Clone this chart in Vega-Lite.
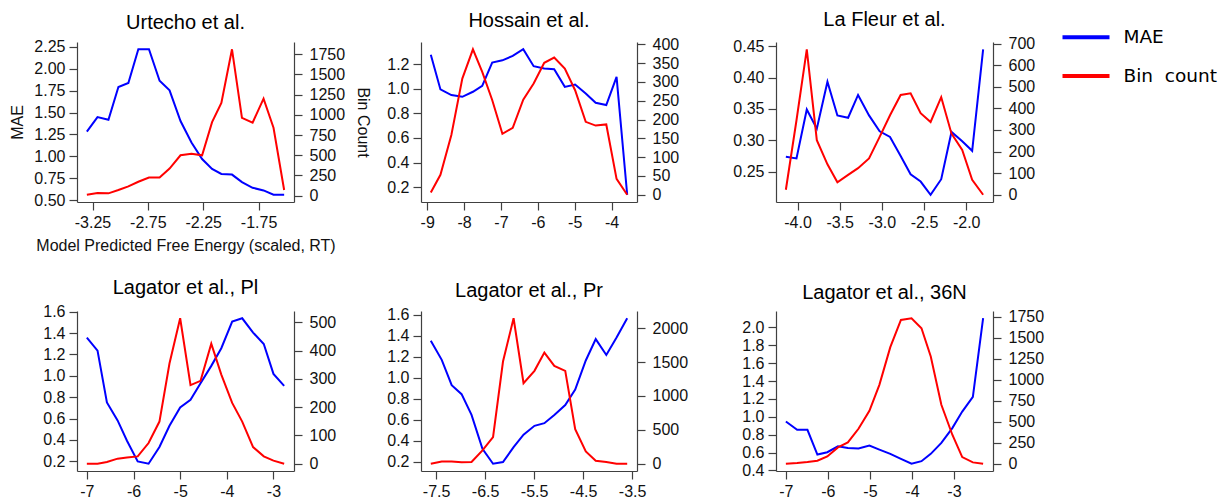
{
  "$schema": "https://vega.github.io/schema/vega-lite/v6.json",
  "padding": {"left": 9, "top": 10, "right": 5, "bottom": 5},
  "background": "white",
  "datasets": {
    "urtecho": [
      {"x": -3.301, "mae": 1.283, "count": 12},
      {"x": -3.205, "mae": 1.448, "count": 33},
      {"x": -3.106, "mae": 1.418, "count": 29},
      {"x": -3.016, "mae": 1.791, "count": 70},
      {"x": -2.926, "mae": 1.836, "count": 115},
      {"x": -2.836, "mae": 2.220, "count": 172},
      {"x": -2.740, "mae": 2.220, "count": 225},
      {"x": -2.644, "mae": 1.862, "count": 225},
      {"x": -2.554, "mae": 1.753, "count": 336},
      {"x": -2.455, "mae": 1.403, "count": 500},
      {"x": -2.356, "mae": 1.159, "count": 520},
      {"x": -2.260, "mae": 0.970, "count": 500},
      {"x": -2.170, "mae": 0.857, "count": 910},
      {"x": -2.086, "mae": 0.801, "count": 1148},
      {"x": -1.990, "mae": 0.793, "count": 1811},
      {"x": -1.900, "mae": 0.707, "count": 963},
      {"x": -1.804, "mae": 0.643, "count": 902},
      {"x": -1.705, "mae": 0.613, "count": 1201},
      {"x": -1.615, "mae": 0.564, "count": 840},
      {"x": -1.519, "mae": 0.564, "count": 70}
    ],
    "hossain": [
      {"x": -8.901, "mae": 1.278, "count": 6},
      {"x": -8.640, "mae": 0.995, "count": 53},
      {"x": -8.344, "mae": 0.949, "count": 159},
      {"x": -8.047, "mae": 0.935, "count": 309},
      {"x": -7.759, "mae": 0.976, "count": 387},
      {"x": -7.507, "mae": 1.024, "count": 327},
      {"x": -7.237, "mae": 1.214, "count": 252},
      {"x": -6.960, "mae": 1.232, "count": 162},
      {"x": -6.680, "mae": 1.268, "count": 178},
      {"x": -6.395, "mae": 1.322, "count": 253},
      {"x": -6.113, "mae": 1.184, "count": 296},
      {"x": -5.826, "mae": 1.165, "count": 351},
      {"x": -5.556, "mae": 1.159, "count": 365},
      {"x": -5.268, "mae": 1.016, "count": 336},
      {"x": -4.989, "mae": 1.035, "count": 278},
      {"x": -4.701, "mae": 0.962, "count": 194},
      {"x": -4.432, "mae": 0.886, "count": 184},
      {"x": -4.144, "mae": 0.868, "count": 187},
      {"x": -3.865, "mae": 1.097, "count": 42},
      {"x": -3.577, "mae": 0.138, "count": 0}
    ],
    "lafleur": [
      {"x": -4.138, "mae": 0.2741, "count": 23},
      {"x": -4.012, "mae": 0.2715, "count": 345},
      {"x": -3.890, "mae": 0.3492, "count": 674},
      {"x": -3.771, "mae": 0.3188, "count": 253},
      {"x": -3.645, "mae": 0.3933, "count": 141},
      {"x": -3.527, "mae": 0.3398, "count": 58},
      {"x": -3.400, "mae": 0.3361, "count": 92},
      {"x": -3.282, "mae": 0.3723, "count": 123},
      {"x": -3.152, "mae": 0.3398, "count": 168},
      {"x": -3.026, "mae": 0.3146, "count": 268},
      {"x": -2.903, "mae": 0.3056, "count": 368},
      {"x": -2.777, "mae": 0.2752, "count": 462},
      {"x": -2.659, "mae": 0.2463, "count": 470},
      {"x": -2.540, "mae": 0.2348, "count": 378},
      {"x": -2.422, "mae": 0.2138, "count": 337},
      {"x": -2.296, "mae": 0.2385, "count": 452},
      {"x": -2.174, "mae": 0.3135, "count": 283},
      {"x": -2.047, "mae": 0.2988, "count": 207},
      {"x": -1.929, "mae": 0.2836, "count": 69},
      {"x": -1.799, "mae": 0.4448, "count": 0}
    ],
    "lagatorPl": [
      {"x": -7.000, "mae": 1.357, "count": 0},
      {"x": -6.771, "mae": 1.236, "count": 0},
      {"x": -6.570, "mae": 0.751, "count": 6},
      {"x": -6.341, "mae": 0.583, "count": 18},
      {"x": -6.140, "mae": 0.393, "count": 22},
      {"x": -5.910, "mae": 0.200, "count": 26},
      {"x": -5.677, "mae": 0.178, "count": 73},
      {"x": -5.444, "mae": 0.334, "count": 149},
      {"x": -5.229, "mae": 0.533, "count": 354},
      {"x": -5.000, "mae": 0.704, "count": 514},
      {"x": -4.778, "mae": 0.775, "count": 278},
      {"x": -4.563, "mae": 0.931, "count": 293},
      {"x": -4.333, "mae": 1.093, "count": 424},
      {"x": -4.118, "mae": 1.258, "count": 315},
      {"x": -3.885, "mae": 1.507, "count": 215},
      {"x": -3.670, "mae": 1.538, "count": 149},
      {"x": -3.437, "mae": 1.404, "count": 59},
      {"x": -3.208, "mae": 1.298, "count": 26},
      {"x": -3.000, "mae": 1.018, "count": 11},
      {"x": -2.771, "mae": 0.906, "count": 0}
    ],
    "lagatorPr": [
      {"x": -7.608, "mae": 1.355, "count": 0},
      {"x": -7.385, "mae": 1.172, "count": 34},
      {"x": -7.182, "mae": 0.930, "count": 34},
      {"x": -6.980, "mae": 0.845, "count": 20},
      {"x": -6.777, "mae": 0.647, "count": 25},
      {"x": -6.554, "mae": 0.323, "count": 197},
      {"x": -6.338, "mae": 0.181, "count": 393},
      {"x": -6.135, "mae": 0.197, "count": 1509},
      {"x": -5.919, "mae": 0.339, "count": 2147},
      {"x": -5.716, "mae": 0.458, "count": 1189},
      {"x": -5.493, "mae": 0.543, "count": 1371},
      {"x": -5.291, "mae": 0.568, "count": 1641},
      {"x": -5.088, "mae": 0.647, "count": 1445},
      {"x": -4.865, "mae": 0.741, "count": 1371},
      {"x": -4.662, "mae": 0.889, "count": 511},
      {"x": -4.446, "mae": 1.166, "count": 182},
      {"x": -4.243, "mae": 1.370, "count": 44},
      {"x": -4.027, "mae": 1.219, "count": 25},
      {"x": -3.818, "mae": 1.386, "count": 0},
      {"x": -3.601, "mae": 1.569, "count": 0}
    ],
    "lagator36N": [
      {"x": -7.000, "mae": 0.947, "count": 0},
      {"x": -6.732, "mae": 0.854, "count": 8},
      {"x": -6.487, "mae": 0.854, "count": 20},
      {"x": -6.250, "mae": 0.577, "count": 36},
      {"x": -6.014, "mae": 0.603, "count": 87},
      {"x": -5.761, "mae": 0.670, "count": 194},
      {"x": -5.525, "mae": 0.651, "count": 253},
      {"x": -5.272, "mae": 0.644, "count": 416},
      {"x": -5.012, "mae": 0.677, "count": 629},
      {"x": -4.775, "mae": 0.633, "count": 938},
      {"x": -4.515, "mae": 0.585, "count": 1386},
      {"x": -4.262, "mae": 0.529, "count": 1710},
      {"x": -4.010, "mae": 0.474, "count": 1730},
      {"x": -3.773, "mae": 0.503, "count": 1611},
      {"x": -3.552, "mae": 0.585, "count": 1275},
      {"x": -3.300, "mae": 0.707, "count": 701},
      {"x": -3.039, "mae": 0.873, "count": 345},
      {"x": -2.803, "mae": 1.058, "count": 79},
      {"x": -2.550, "mae": 1.224, "count": 16},
      {"x": -2.306, "mae": 2.103, "count": 0}
    ]
  },
  "config": {
    "locale": {"number": {"decimal": ".", "thousands": ",", "grouping": [3], "currency": ["$", ""], "minus": "-"}},
    "view": {"stroke": null},
    "font": "Liberation Sans",
    "axis": {
      "grid": false,
      "domainColor": "#404040",
      "tickColor": "#404040",
      "domainWidth": 1.2,
      "tickWidth": 1.2,
      "tickSize": 8,
      "labelFont": "Liberation Sans",
      "labelFontSize": 16,
      "labelColor": "#111111",
      "titleFont": "Liberation Sans",
      "titleFontSize": 16,
      "titleFontWeight": "normal",
      "titleColor": "#111111",
      "labelFlush": false,
      "labelOverlap": false
    },
    "axisLeft": {"labelPadding": 4, "titlePadding": 8},
    "axisRight": {"labelPadding": 7, "titlePadding": 10},
    "axisBottom": {"labelPadding": 4, "titlePadding": 7},
    "title": {"font": "Liberation Sans", "fontSize": 20, "fontWeight": "normal", "color": "#000000", "anchor": "middle", "frame": "group", "offset": 5.5},
    "legend": {
      "padding": 0,
      "symbolType": "M-1.5,-0.0667H1.5V0.0667H-1.5Z",
      "symbolSize": 900,
      "labelFont": "DejaVu Sans",
      "labelFontSize": 18.5,
      "labelColor": "#000000",
      "rowPadding": 12.7,
      "labelOffset": 21.5,
      "labelLimit": 400
    },
    "line": {"strokeWidth": 2}
  },
  "spacing": 15,
  "hconcat": [
    {
      "vconcat": [
        {
          "data": {"name": "urtecho"},
          "title": "Urtecho et al.",
          "width": 217, "height": 160,
          "encoding": {"x": {"field": "x", "type": "quantitative", "scale": {"domain": [-3.39, -1.43], "nice": false, "zero": false}, "axis": {"values": [-3.25, -2.75, -2.25, -1.75], "format": ".2f", "title": "Model Predicted Free Energy (scaled, RT)"}}},
          "layer": [
            {"mark": {"type": "line", "strokeWidth": 2}, "encoding": {"y": {"field": "mae", "type": "quantitative", "scale": {"domain": [0.481, 2.303], "nice": false, "zero": false}, "axis": {"orient": "left", "values": [0.5, 0.75, 1.0, 1.25, 1.5, 1.75, 2.0, 2.25], "format": ".2f", "title": "MAE"}}, "color": {"datum": "MAE", "scale": {"domain": ["MAE", "Bin count"], "range": ["#0000ff", "#ff0000"]}, "legend": {"title": null, "orient": "none", "legendX": 993, "legendY": -20.7, "labelExpr": "replace(datum.label, ' ', '\u00a0\u00a0')"}}}},
            {"mark": {"type": "line", "strokeWidth": 2}, "encoding": {"y": {"field": "count", "type": "quantitative", "scale": {"domain": [-78, 1901], "nice": false, "zero": false}, "axis": {"orient": "right", "values": [0, 250, 500, 750, 1000, 1250, 1500, 1750], "format": "d", "title": "Bin Count"}}, "color": {"datum": "Bin count"}}}
          ],
          "resolve": {"scale": {"y": "independent"}}
        },
        {
          "data": {"name": "lagatorPl"},
          "title": "Lagator et al., Pl",
          "width": 217, "height": 160,
          "encoding": {"x": {"field": "x", "type": "quantitative", "scale": {"domain": [-7.211, -2.56], "nice": false, "zero": false}, "axis": {"values": [-7, -6, -5, -4, -3], "format": "d", "title": null}}},
          "layer": [
            {"mark": {"type": "line", "strokeWidth": 2}, "encoding": {"y": {"field": "mae", "type": "quantitative", "scale": {"domain": [0.110, 1.606], "nice": false, "zero": false}, "axis": {"orient": "left", "values": [0.2, 0.4, 0.6, 0.8, 1.0, 1.2, 1.4, 1.6], "format": ".1f", "title": null}}, "color": {"datum": "MAE"}}},
            {"mark": {"type": "line", "strokeWidth": 2}, "encoding": {"y": {"field": "count", "type": "quantitative", "scale": {"domain": [-25.7, 539.7], "nice": false, "zero": false}, "axis": {"orient": "right", "values": [0, 100, 200, 300, 400, 500], "format": "d", "title": null}}, "color": {"datum": "Bin count"}}}
          ],
          "resolve": {"scale": {"y": "independent"}}
        }
      ],
      "spacing": 109,
      "bounds": "flush"
    },
    {
      "spacing": 44,
      "hconcat": [
        {
          "vconcat": [
            {
              "data": {"name": "hossain"},
              "title": "Hossain et al.",
              "width": 216, "height": 160,
              "encoding": {"x": {"field": "x", "type": "quantitative", "scale": {"domain": [-9.167, -3.311], "nice": false, "zero": false}, "axis": {"values": [-9, -8, -7, -6, -5, -4], "format": "d", "title": null}}},
              "layer": [
                {"mark": {"type": "line", "strokeWidth": 2}, "encoding": {"y": {"field": "mae", "type": "quantitative", "scale": {"domain": [0.079, 1.381], "nice": false, "zero": false}, "axis": {"orient": "left", "values": [0.2, 0.4, 0.6, 0.8, 1.0, 1.2], "format": ".1f", "title": null}}, "color": {"datum": "MAE"}}},
                {"mark": {"type": "line", "strokeWidth": 2}, "encoding": {"y": {"field": "count", "type": "quantitative", "scale": {"domain": [-19.4, 406.4], "nice": false, "zero": false}, "axis": {"orient": "right", "values": [0, 50, 100, 150, 200, 250, 300, 350, 400], "format": "d", "title": null}}, "color": {"datum": "Bin count"}}}
              ],
              "resolve": {"scale": {"y": "independent"}}
            },
            {
              "data": {"name": "lagatorPr"},
              "title": "Lagator et al., Pr",
              "width": 216, "height": 160,
              "encoding": {"x": {"field": "x", "type": "quantitative", "scale": {"domain": [-7.808, -3.401], "nice": false, "zero": false}, "axis": {"values": [-7.5, -6.5, -5.5, -4.5, -3.5], "format": ".1f", "title": null}}},
              "layer": [
                {"mark": {"type": "line", "strokeWidth": 2}, "encoding": {"y": {"field": "mae", "type": "quantitative", "scale": {"domain": [0.112, 1.638], "nice": false, "zero": false}, "axis": {"orient": "left", "values": [0.2, 0.4, 0.6, 0.8, 1.0, 1.2, 1.4, 1.6], "format": ".1f", "title": null}}, "color": {"datum": "MAE"}}},
                {"mark": {"type": "line", "strokeWidth": 2}, "encoding": {"y": {"field": "count", "type": "quantitative", "scale": {"domain": [-107.4, 2254.4], "nice": false, "zero": false}, "axis": {"orient": "right", "values": [0, 500, 1000, 1500, 2000], "format": "d", "title": null}}, "color": {"datum": "Bin count"}}}
              ],
              "resolve": {"scale": {"y": "independent"}}
            }
          ],
          "spacing": 109,
          "bounds": "flush"
        },
        {
          "vconcat": [
            {
              "data": {"name": "lafleur"},
              "title": "La Fleur et al.",
              "width": 217, "height": 160,
              "encoding": {"x": {"field": "x", "type": "quantitative", "scale": {"domain": [-4.255, -1.682], "nice": false, "zero": false}, "axis": {"values": [-4.0, -3.5, -3.0, -2.5, -2.0], "format": ".1f", "title": null}}},
              "layer": [
                {"mark": {"type": "line", "strokeWidth": 2}, "encoding": {"y": {"field": "mae", "type": "quantitative", "scale": {"domain": [0.2023, 0.4564], "nice": false, "zero": false}, "axis": {"orient": "left", "values": [0.25, 0.30, 0.35, 0.40, 0.45], "format": ".2f", "title": null}}, "color": {"datum": "MAE"}}},
                {"mark": {"type": "line", "strokeWidth": 2}, "encoding": {"y": {"field": "count", "type": "quantitative", "scale": {"domain": [-33.7, 707.7], "nice": false, "zero": false}, "axis": {"orient": "right", "values": [0, 100, 200, 300, 400, 500, 600, 700], "format": "d", "title": null}}, "color": {"datum": "Bin count"}}}
              ],
              "resolve": {"scale": {"y": "independent"}}
            },
            {
              "data": {"name": "lagator36N"},
              "title": "Lagator et al., 36N",
              "width": 217, "height": 160,
              "encoding": {"x": {"field": "x", "type": "quantitative", "scale": {"domain": [-7.235, -2.071], "nice": false, "zero": false}, "axis": {"values": [-7, -6, -5, -4, -3], "format": "d", "title": null}}},
              "layer": [
                {"mark": {"type": "line", "strokeWidth": 2}, "encoding": {"y": {"field": "mae", "type": "quantitative", "scale": {"domain": [0.393, 2.184], "nice": false, "zero": false}, "axis": {"orient": "left", "values": [0.4, 0.6, 0.8, 1.0, 1.2, 1.4, 1.6, 1.8, 2.0], "format": ".1f", "title": null}}, "color": {"datum": "MAE"}}},
                {"mark": {"type": "line", "strokeWidth": 2}, "encoding": {"y": {"field": "count", "type": "quantitative", "scale": {"domain": [-86.5, 1816.5], "nice": false, "zero": false}, "axis": {"orient": "right", "values": [0, 250, 500, 750, 1000, 1250, 1500, 1750], "format": "d", "title": null}}, "color": {"datum": "Bin count"}}}
              ],
              "resolve": {"scale": {"y": "independent"}}
            }
          ],
          "spacing": 109,
          "bounds": "flush"
        }
      ]
    }
  ]
}
